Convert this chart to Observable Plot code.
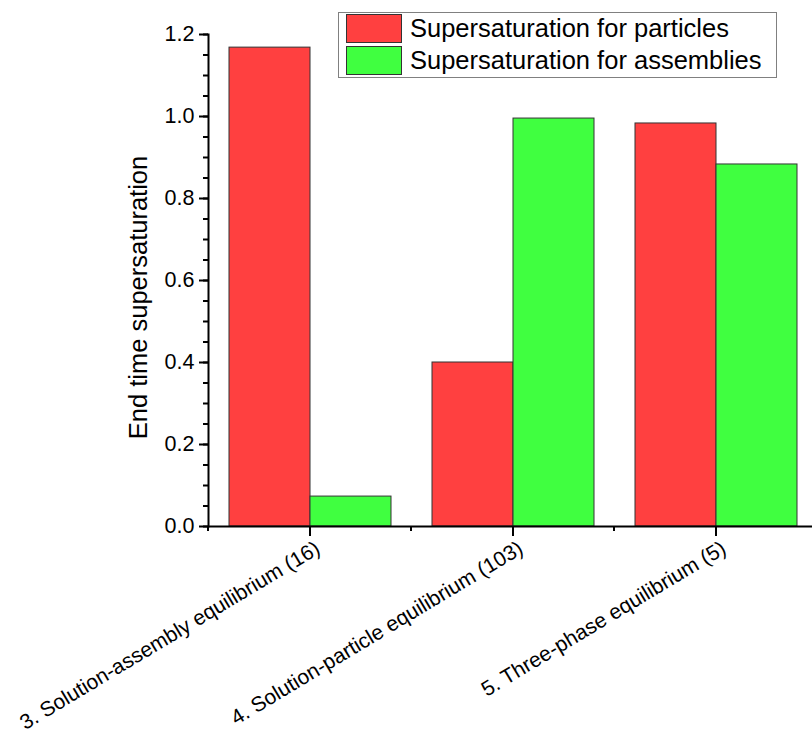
<!DOCTYPE html>
<html>
<head>
<meta charset="utf-8">
<script src="https://cdn.jsdelivr.net/npm/d3@7"></script>
<script src="https://cdn.jsdelivr.net/npm/@observablehq/plot@0.6"></script>
<style>
  body { margin: 0; background: white; }
  #wrap { position: relative; width: 812px; height: 734px; font-family: "Liberation Sans", Arial, sans-serif; }
  #legend { position: absolute; left: 338px; top: 12px; width: 437px; height: 64px; border: 1px solid #808080; background: white; }
  .row { position: absolute; left: 7px; height: 29px; display: flex; align-items: center; }
  .sw { width: 54px; height: 27px; border: 1px solid #333; margin-right: 8px; }
  .lt { font-size: 25.5px; color: black; white-space: nowrap; line-height: 29px; }
</style>
</head>
<body>
<div id="wrap"></div>
<script>
const categories = [
  "3. Solution-assembly equilibrium (16)",
  "4. Solution-particle equilibrium (103)",
  "5. Three-phase equilibrium (5)"
];
const seriesNames = ["Supersaturation for particles", "Supersaturation for assemblies"];
const particles = [1.168, 0.400, 0.983];
const assemblies = [0.073, 0.995, 0.883];
const colors = ["#FF4040", "#40FF40"];
const yTicks = [0, 0.2, 0.4, 0.6, 0.8, 1.0, 1.2];
const yMinorTicks = [0, 0.05, 0.1, 0.15, 0.2, 0.25, 0.3, 0.35, 0.4, 0.45, 0.5, 0.55, 0.6, 0.65, 0.7, 0.75, 0.8, 0.85, 0.9, 0.95, 1.0, 1.05, 1.1, 1.15, 1.2];
const yTitle = "End time supersaturation";

const table = [];
categories.forEach((c, i) => {
  table.push({category: c, series: seriesNames[0], value: particles[i]});
  table.push({category: c, series: seriesNames[1], value: assemblies[i]});
});

const chart = Plot.plot({
  width: 812,
  height: 734,
  marginLeft: 207,
  marginRight: -6,
  marginTop: 34,
  marginBottom: 208,
  style: {fontFamily: "'Liberation Sans', Arial, sans-serif", fontSize: "21.5px", background: "white", color: "black"},
  fx: {domain: categories, padding: 0, label: null},
  x: {domain: seriesNames, paddingInner: 0, paddingOuter: 0.25, axis: null},
  y: {domain: [0, 1.2], label: null},
  color: {domain: seriesNames, range: colors},
  marks: [
    Plot.barY(table, {fx: "category", x: "series", y: "value", fill: "series", stroke: "#333", strokeWidth: 1}),
    Plot.ruleY([0], {stroke: "black", strokeWidth: 2}),
    Plot.frame({anchor: "left", facetAnchor: "left", stroke: "black", strokeWidth: 2}),
    Plot.axisY({ticks: yMinorTicks, tickSize: 5, tickFormat: () => "", label: null, strokeWidth: 2}),
    Plot.axisY({ticks: yTicks, tickSize: 9, tickPadding: 5, tickFormat: d3.format(".1f"), label: null, strokeWidth: 2}),
    Plot.text([yTitle], {frameAnchor: "left", facetAnchor: "left", textAnchor: "middle", dx: -70, dy: 17, rotate: -90, fontSize: 25.5, text: d => d}),
    Plot.axisFx({anchor: "bottom", tickSize: 10, tickFormat: () => "", label: null, strokeWidth: 2}),
    Plot.axisFx({anchor: "bottom", tickSize: 0, tickPadding: 20, dx: 8, tickRotate: -31, fontSize: 21, label: null}),
    Plot.axisFx({anchor: "bottom", tickSize: 5, dx: -102, tickFormat: () => "", label: null, strokeWidth: 2})
  ]
});
const wrap = document.getElementById("wrap");
wrap.appendChild(chart);

const legend = document.createElement("div");
legend.id = "legend";
seriesNames.forEach((s, i) => {
  const row = document.createElement("div");
  row.className = "row";
  row.style.top = (1 + i * 32) + "px";
  const sw = document.createElement("div");
  sw.className = "sw";
  sw.style.background = colors[i];
  const lt = document.createElement("span");
  lt.className = "lt";
  lt.textContent = s;
  row.appendChild(sw);
  row.appendChild(lt);
  legend.appendChild(row);
});
wrap.appendChild(legend);
</script>
</body>
</html>
